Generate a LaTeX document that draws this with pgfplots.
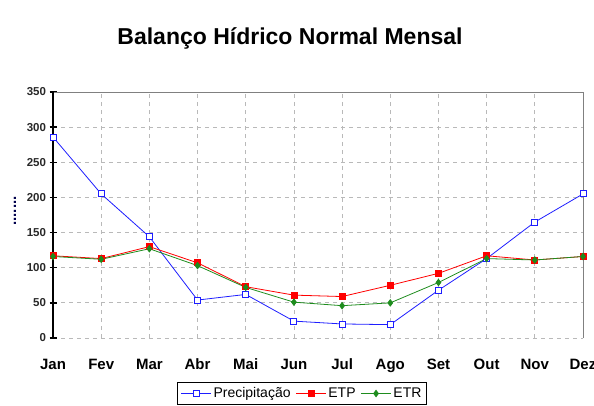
\documentclass[border=0pt]{standalone}
\usepackage{pgfplots}
\pgfplotsset{compat=1.18}
\usepackage{fontspec}
\setmainfont{Liberation Sans}
\definecolor{cprec}{RGB}{30,30,255}
\definecolor{cetp}{RGB}{255,0,0}
\definecolor{cetr}{RGB}{30,140,30}
\definecolor{tickgray}{RGB}{40,40,40}
\begin{document}
\begin{tikzpicture}
\useasboundingbox (0pt,-405pt) rectangle (594pt,0pt);
\node[font=\fontsize{23}{25}\selectfont\bfseries] at (290pt,-38pt) {Balanço Hídrico Normal Mensal};
\node[rotate=90, inner sep=0pt, font=\fontsize{15}{15}\selectfont\bfseries, text=blue!30!black] at (15pt,-211pt) {.......};
\begin{axis}[
  at={(53pt,-338pt)}, anchor=south west,
  scale only axis, width=530pt, height=246pt,
  xmin=0, xmax=11, ymin=0, ymax=350,
  xtick={0,...,11},
  xticklabels={Jan,Fev,Mar,Abr,Mai,Jun,Jul,Ago,Set,Out,Nov,Dez},
  ytick={0,50,...,350},
  ytick pos=left,
  /pgf/number format/assume math mode=true,
  axis line style={draw=none},
  grid=major,
  major grid style={gray!55, dash pattern=on 4pt off 4pt, line width=0.8pt},
  xtick style={draw=none},
  ytick style={black, line width=1.5pt},
  tick align=center,
  major tick length=7pt,
  xticklabel style={font=\fontsize{15}{15}\selectfont\bfseries, text=black},
  yticklabel style={font=\fontsize{11.5}{12}\selectfont\bfseries, text=tickgray},
  xticklabel shift=14pt,
  yticklabel shift=0pt,
  clip=false,
  legend columns=3,
  legend style={at={(0.47,-0.18)}, anchor=north, draw=black, line width=0.8pt,
    font=\fontsize{14}{14}\selectfont, inner sep=3pt,
    /tikz/every even column/.append style={column sep=3pt}},
  legend image code/.code={\draw[mark repeat=2,mark phase=2] plot coordinates {(0pt,0pt) (15pt,0pt) (30pt,0pt)};},
  legend image post style={line width=0.8pt},
]
\draw[gray, line width=0.8pt] (rel axis cs:0,1) -- (rel axis cs:1,1) -- (rel axis cs:1,0);
\draw[black, line width=2pt] (rel axis cs:0,0) -- (rel axis cs:0,1);
\addplot[cprec, line width=0.8pt, mark=square*, mark size=3pt, mark options={fill=white, line width=0.9pt}]
  coordinates {(0,286) (1,205) (2,144) (3,54) (4,62) (5,24) (6,20) (7,19) (8,68) (9,113) (10,165) (11,205)};
\addlegendentry{Precipitação}
\addplot[cetp, line width=0.8pt, mark=square*, mark size=3pt]
  coordinates {(0,117) (1,113) (2,130) (3,107) (4,73) (5,61) (6,59) (7,75) (8,92) (9,117) (10,111) (11,116)};
\addlegendentry{ETP}
\addplot[cetr, line width=0.8pt, mark=diamond*, mark size=3.2pt]
  coordinates {(0,116) (1,112) (2,127) (3,103) (4,72) (5,51) (6,46) (7,50) (8,79) (9,113) (10,111) (11,116)};
\addlegendentry{ETR}
\end{axis}
\end{tikzpicture}
\end{document}
